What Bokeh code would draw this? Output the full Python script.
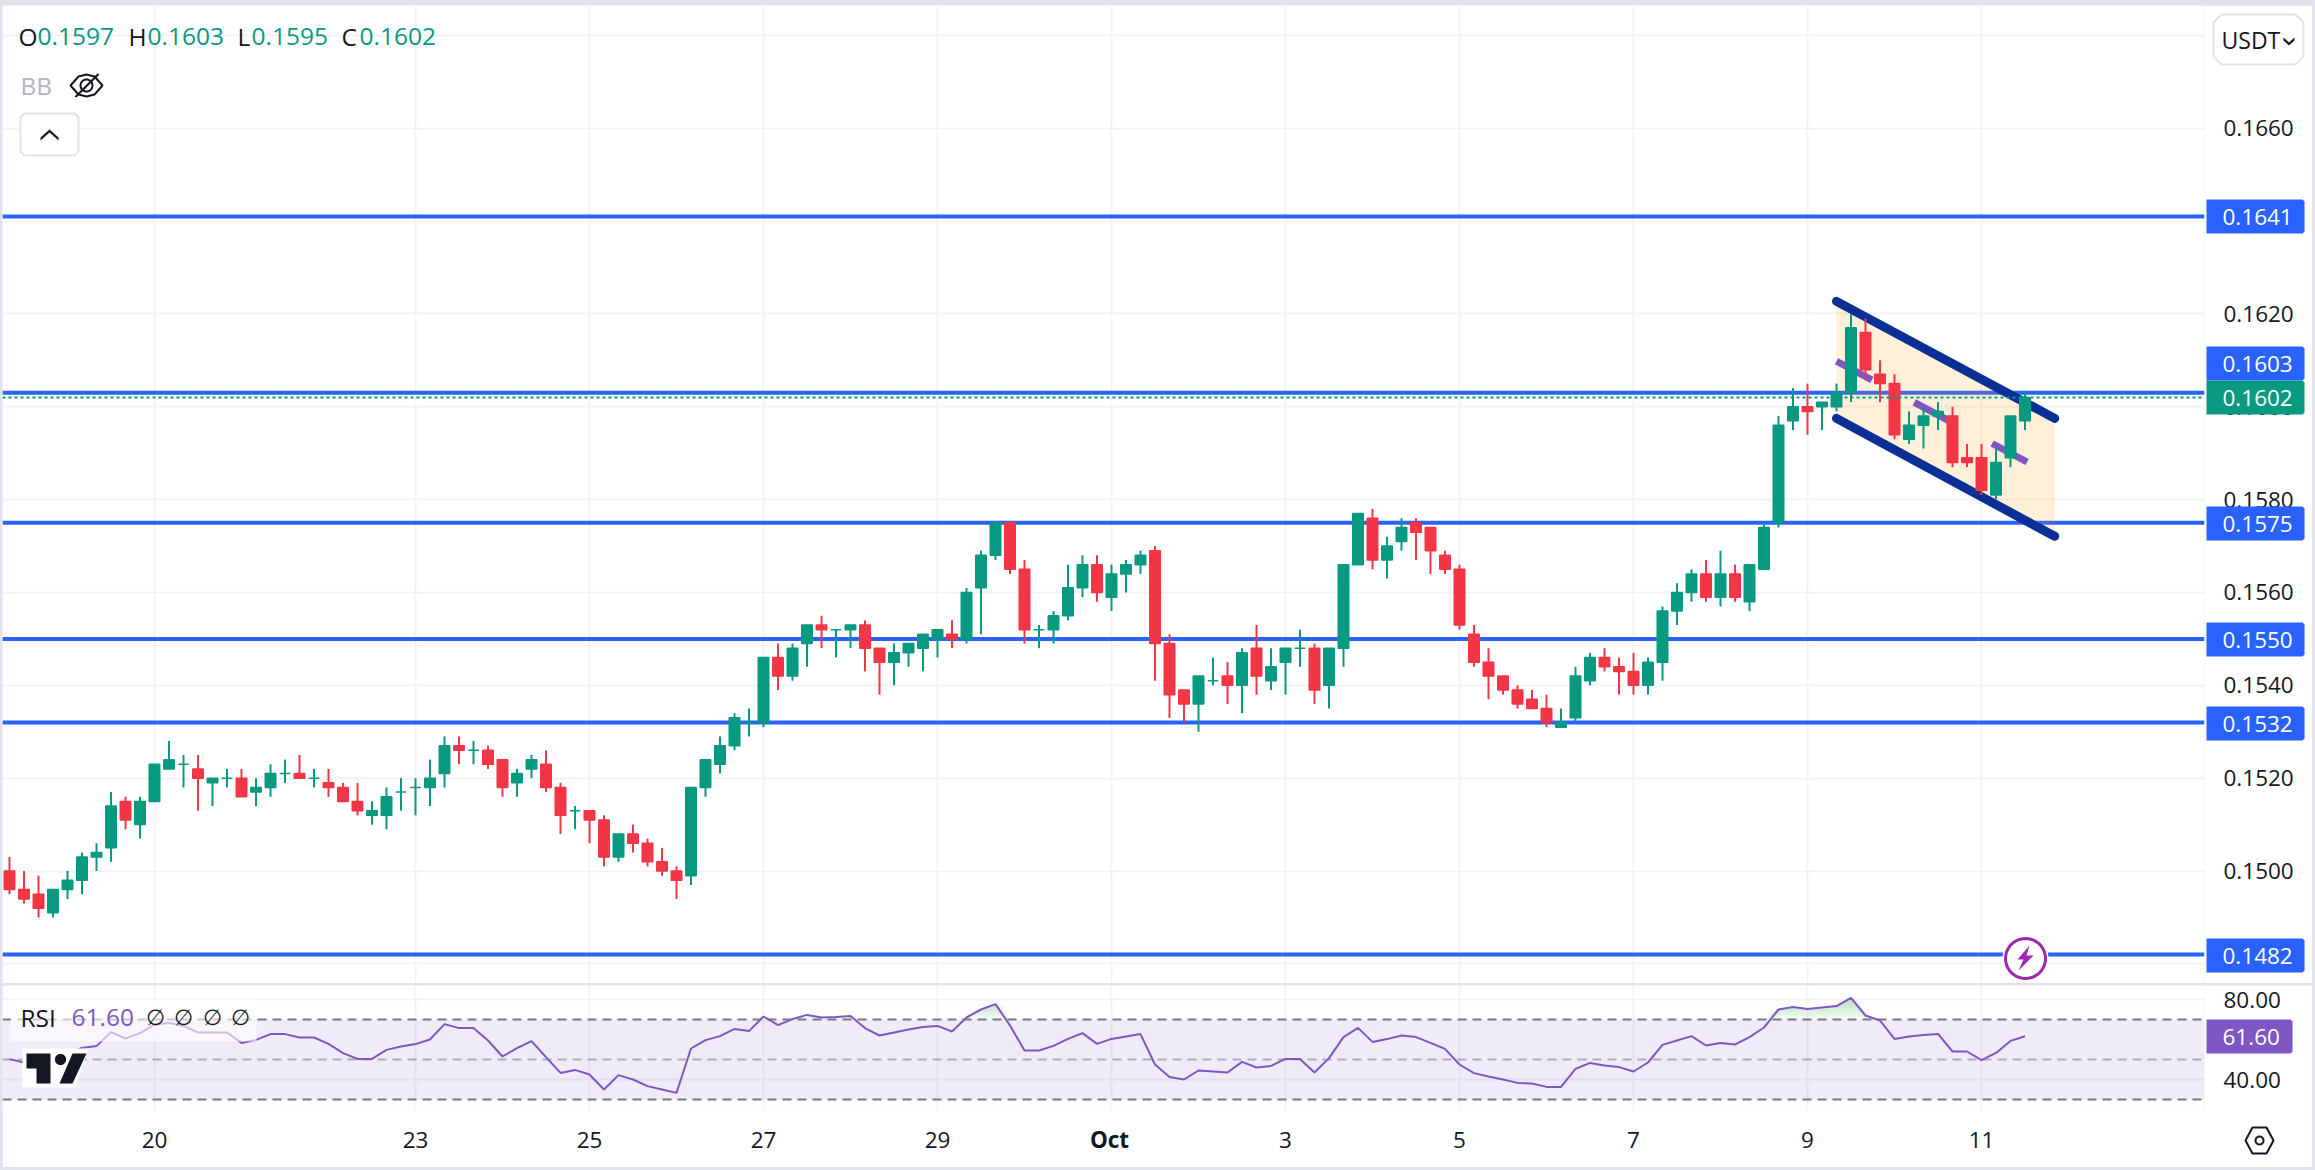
import numpy as np
from bokeh.plotting import figure
from bokeh.layouts import column
from bokeh.models import (FixedTicker, PrintfTickFormatter, Label, PolyAnnotation, BoxAnnotation, Range1d)
from bokeh.embed import file_html
from bokeh.resources import INLINE

opens = [.1500,.1496,.1495,.1491,.1496,.1498,.1503,.1505,.1515,.1510,
 .1515,.1522,.1523,.1522,.1519,.1520,.1520,.1517,.1518,.1521,
 .1521,.1520,.1519,.1518,.1515,.1512,.1512,.1517,.1518,.1518,
 .1521,.1527,.1526,.1526,.1524,.1519,.1522,.1523,.1518,.1513,
 .1513,.1511,.1503,.1508,.1506,.1502,.1500,.1499,.1518,.1523,
 .1527,.1532,.1532,.1546,.1542,.1549,.1553,.1552,.1552,.1553,
 .1548,.1545,.1547,.1548,.1550,.1551,.1550,.1561,.1568,.1575,
 .1565,.1552,.1552,.1555,.1561,.1566,.1559,.1564,.1566,.1569,
 .1549,.1539,.1536,.1541,.1542,.1540,.1548,.1541,.1545,.1548,
 .1548,.1540,.1548,.1566,.1576,.1567,.1571,.1575,.1574,.1568,
 .1565,.1551,.1545,.1542,.1539,.1537,.1535,.1531,.1533,.1541,
 .1546,.1544,.1543,.1540,.1545,.1556,.1560,.1564,.1559,.1564,
 .1558,.1565,.1575,.1597,.1600,.1600,.1600,.1603,.1616,.1607,
 .1605,.1593,.1596,.1598,.1598,.1589,.1589,.1581,.1589,.1597]
highs = [.1503,.1500,.1499,.1496,.1500,.1504,.1506,.1517,.1516,.1516,
 .1523,.1528,.1525,.1525,.1520,.1522,.1522,.1520,.1523,.1524,
 .1525,.1522,.1522,.1519,.1519,.1515,.1518,.1520,.1520,.1524,
 .1529,.1529,.1528,.1527,.1524,.1522,.1525,.1526,.1519,.1514,
 .1513,.1512,.1508,.1510,.1507,.1505,.1501,.1518,.1524,.1529,
 .1534,.1535,.1546,.1549,.1549,.1553,.1555,.1552,.1553,.1554,
 .1548,.1549,.1549,.1551,.1552,.1554,.1561,.1569,.1575,.1575,
 .1567,.1553,.1556,.1566,.1568,.1568,.1566,.1567,.1569,.1570,
 .1551,.1539,.1542,.1546,.1545,.1548,.1553,.1548,.1548,.1552,
 .1549,.1548,.1566,.1577,.1578,.1572,.1576,.1576,.1574,.1569,
 .1566,.1553,.1548,.1542,.1540,.1539,.1538,.1535,.1544,.1547,
 .1548,.1546,.1547,.1546,.1557,.1562,.1565,.1567,.1569,.1566,
 .1566,.1575,.1598,.1604,.1605,.1601,.1605,.1620,.1619,.1610,
 .1607,.1599,.1600,.1601,.1600,.1592,.1592,.1591,.1598,.1603]
lows = [.1495,.1493,.1490,.1490,.1494,.1495,.1500,.1502,.1509,.1507,
 .1515,.1522,.1518,.1513,.1514,.1518,.1516,.1514,.1516,.1519,
 .1520,.1518,.1516,.1515,.1512,.1510,.1509,.1513,.1512,.1514,
 .1518,.1523,.1523,.1522,.1516,.1516,.1520,.1517,.1508,.1509,
 .1506,.1501,.1502,.1504,.1501,.1499,.1494,.1497,.1516,.1521,
 .1526,.1529,.1531,.1539,.1541,.1544,.1548,.1546,.1548,.1543,
 .1538,.1540,.1544,.1543,.1546,.1548,.1549,.1551,.1567,.1564,
 .1549,.1548,.1549,.1554,.1559,.1558,.1556,.1560,.1564,.1541,
 .1533,.1532,.1530,.1540,.1536,.1534,.1538,.1539,.1538,.1544,
 .1536,.1535,.1544,.1566,.1565,.1563,.1569,.1567,.1564,.1564,
 .1552,.1544,.1537,.1538,.1535,.1535,.1531,.1531,.1532,.1540,
 .1543,.1538,.1538,.1538,.1541,.1553,.1558,.1558,.1557,.1558,
 .1556,.1565,.1574,.1595,.1594,.1595,.1599,.1601,.1606,.1601,
 .1593,.1592,.1591,.1595,.1587,.1587,.1581,.1580,.1587,.1595]
closes = [.1496,.1494,.1492,.1496,.1498,.1503,.1504,.1514,.1511,.1515,
 .1523,.1524,.1523,.1520,.1520,.1520,.1516,.1518,.1521,.1521,
 .1520,.1520,.1518,.1515,.1513,.1513,.1516,.1517,.1518,.1520,
 .1527,.1526,.1526,.1523,.1518,.1521,.1524,.1518,.1512,.1513,
 .1511,.1503,.1508,.1506,.1502,.1500,.1498,.1518,.1524,.1527,
 .1533,.1532,.1546,.1542,.1548,.1553,.1552,.1552,.1553,.1548,
 .1545,.1547,.1549,.1551,.1552,.1550,.1560,.1568,.1575,.1565,
 .1552,.1552,.1555,.1561,.1566,.1560,.1564,.1566,.1568,.1549,
 .1538,.1536,.1542,.1541,.1540,.1547,.1542,.1544,.1548,.1548,
 .1539,.1548,.1566,.1577,.1567,.1570,.1574,.1573,.1569,.1565,
 .1553,.1545,.1542,.1539,.1536,.1535,.1532,.1532,.1542,.1546,
 .1544,.1543,.1540,.1545,.1556,.1560,.1564,.1559,.1564,.1559,
 .1566,.1574,.1596,.1600,.1599,.1601,.1603,.1617,.1608,.1605,
 .1594,.1596,.1598,.1599,.1588,.1588,.1582,.1588,.1598,.1602]
rsi = [50.2,48.5,48.0,49.5,53.0,55.8,56.7,63.7,60.5,63.2,
 67.5,68.3,66.8,63.5,63.5,63.5,58.3,59.8,62.7,62.7,
 61,61,57.8,53.2,50.3,50.3,54.8,56.5,57.7,60,
 67.7,65.7,65.7,59.5,51.5,55.7,59.2,51.2,43.3,44.8,
 42.5,35,42.2,40,36.7,35,33.3,55.5,59.7,61.7,
 65.3,64.2,71.5,67.2,70.2,72.3,71,71.2,71.7,65.7,
 62,63.5,65,66.3,66.8,64,71,75,77.7,67,
 54.5,54.5,56.8,60.3,63.2,57.8,60.3,61.5,62.7,47.5,
 41.2,40,44.5,44,43.5,48.8,46,46.8,50.3,50.3,
 43.5,50.7,61.2,65.8,58.8,60.2,62,61.2,58.3,55.3,
 47.5,43.2,41.5,40,38.3,38,36.3,36.3,45.3,48.3,
 47,46.2,44,48.5,57.3,59.5,61.7,57,58.3,57.5,
 61.2,66,75,76.3,75.3,76,76.7,80.8,72,69.5,
 60.3,61.5,62.3,62.8,54,54,49.7,53.3,59.3,61.6]

levels = [0.1641, 0.1603, 0.1575, 0.1550, 0.1532, 0.1482]
last_close = 0.1602
channel_top_x, channel_top_y = [126.0, 141.05], [0.16227, 0.15975]
channel_bot_x, channel_bot_y = [126.0, 141.05], [0.15975, 0.15721]
mid_x, mid_y = [126.0, 139.15], [0.16098, 0.15881]
day_ticks = [10, 28, 40, 52, 64, 76, 88, 100, 112, 124, 136]
day_labels = ["20", "23", "25", "27", "29", " ", "3", "5", "7", "9", "11"]
price_ticks = [round(0.148 + 0.002*k, 3) for k in range(11)]

GREEN, RED, BLUE, PURPLE = "#089981", "#f23645", "#2962ff", "#7e57c2"
INK, GRID, EDGE = "#131722", "#f2f3f6", "#e0e3eb"
FONT = "Open Sans"

idx = np.arange(len(opens))
colors = [GREEN if c >= o else RED for o, c in zip(opens, closes)]
xr = Range1d(-0.4828, 151.38)

p1 = figure(width=2310, height=978, output_backend="svg", toolbar_location=None,
            x_range=xr, y_range=Range1d(0.147578, 0.168643), y_axis_location="right",
            min_border_left=0, min_border_right=108, min_border_top=0, min_border_bottom=0,
            outline_line_color=None, margin=(5, 3, 0, 2))
p2 = figure(width=2310, height=182, output_backend="svg", toolbar_location=None,
            x_range=xr, y_range=Range1d(24.5, 87), y_axis_location="right",
            min_border_left=0, min_border_right=108, min_border_top=0, min_border_bottom=57,
            outline_line_color=None, margin=(2, 3, 3, 2))
# transparent sheet over the page for price tags and icons, drawn last
p3 = figure(width=2315, height=1170, output_backend="svg", toolbar_location=None,
            x_range=Range1d(0, 2315), y_range=Range1d(1170, 0),
            x_axis_location=None, y_axis_location=None,
            min_border_left=0, min_border_right=0, min_border_top=0, min_border_bottom=0,
            outline_line_color=None, background_fill_color=None, border_fill_color=None,
            frame_align=False, margin=(-1170, 0, 0, 0))
p3.grid.visible = False

for f in (p1, p2):
    f.xgrid.ticker = FixedTicker(ticks=day_ticks)
    f.xgrid.grid_line_color = GRID
    f.xgrid.grid_line_width = 2
    f.ygrid.grid_line_color = GRID
    f.ygrid.grid_line_width = 2
    ax = f.yaxis[0]
    ax.axis_line_color = None
    ax.major_tick_line_color = None
    ax.minor_tick_line_color = None
    ax.major_label_text_font = FONT
    ax.major_label_text_font_size = "22.5px"
    ax.major_label_text_color = INK
    ax.major_label_standoff = 13

p1.xaxis.visible = False
p1.yaxis[0].ticker = FixedTicker(ticks=price_ticks)
p1.yaxis[0].formatter = PrintfTickFormatter(format="%.4f")
p1.ygrid.ticker = FixedTicker(ticks=price_ticks)

p2.yaxis[0].ticker = FixedTicker(ticks=[40, 80])
p2.yaxis[0].formatter = PrintfTickFormatter(format="%.2f")
p2.ygrid.ticker = FixedTicker(ticks=[40, 80])
xa = p2.xaxis[0]
xa.ticker = FixedTicker(ticks=day_ticks)
xa.major_label_overrides = {t: s for t, s in zip(day_ticks, day_labels)}
xa.axis_line_color = None
xa.major_tick_line_color = None
xa.minor_tick_line_color = None
xa.major_label_text_font = FONT
xa.major_label_text_font_size = "22.5px"
xa.major_label_text_color = INK
xa.major_label_standoff = 7

# main pane marks
x_left, x_right = [xr.start] * len(levels), [xr.end] * len(levels)
p1.segment(x_left, levels, x_right, levels, line_color=BLUE, line_width=4)
p1.patch(channel_top_x + channel_bot_x[::-1], channel_top_y + channel_bot_y[::-1],
         fill_color="#ff9800", fill_alpha=0.15, line_color=None)
p1.line(mid_x, mid_y, line_color=PURPLE, line_width=7, line_dash="40 48")
p1.line(channel_top_x, channel_top_y, line_color="#0c2f96", line_width=9, line_cap="round")
p1.line(channel_bot_x, channel_bot_y, line_color="#0c2f96", line_width=9, line_cap="round")
p1.segment(idx, highs, idx, lows, line_color=colors, line_width=2)
p1.vbar(idx, width=0.724, top=opens, bottom=closes, fill_color=colors, line_color=colors, line_width=1.5)
p1.segment([xr.start], [last_close], [xr.end], [last_close], line_color=GREEN, line_width=2, line_dash="3 3")

# RSI pane marks
p2.add_layout(BoxAnnotation(bottom=30, top=70, fill_color=PURPLE, fill_alpha=0.12, line_color=None, level="underlay"))
rsi_arr = np.array(rsi)
for t in (70, 72, 74, 76, 78):
    p2.varea(idx, y1=[t]*len(idx), y2=np.maximum(rsi_arr, t), fill_color="#4caf50", fill_alpha=0.07)
for lv, col, a in ((70, "#787b86", 1), (50, "#787b86", 0.55), (30, "#787b86", 1)):
    p2.segment([xr.start], [lv], [xr.end], [lv], line_color=col, line_alpha=a, line_width=2, line_dash="9 6")
p2.line(idx, rsi, line_color=PURPLE, line_width=2)


def poly(X, Y, fill=None, alpha=1.0, line=None, lw=0):
    p3.add_layout(PolyAnnotation(xs=list(X), ys=list(Y), xs_units="canvas", ys_units="canvas",
                                 fill_color=fill if fill else "#ffffff", fill_alpha=alpha if fill else 0,
                                 line_color=line, line_alpha=1.0, line_width=lw, level="annotation"))


def circ(cx, cy, r, n=48):
    t = np.linspace(0, 2*np.pi, n, endpoint=False)
    return list(cx + r*np.cos(t)), list(cy + r*np.sin(t))


def label(X, Y, txt, color=INK, size="22.5px", align="left", font=FONT, style="normal"):
    p3.add_layout(Label(x=X, y=Y, x_units="canvas", y_units="canvas", text=txt,
                        text_color=color, text_font=font, text_font_size=size, text_align=align,
                        text_baseline="middle", text_font_style=style, level="annotation"))


# header
for X, t, c in ((18, "O", INK), (37, "0.1597", GREEN), (128, "H", INK), (147, "0.1603", GREEN),
                (237, "L", INK), (251, "0.1595", GREEN), (341, "C", INK), (359, "0.1602", GREEN)):
    label(X, 36, t, color=c, size="24.5px")
label(20, 85, "BB", color="#b2b5be", size="24.5px")

# eye icon
poly([70, 78, 86, 94, 102, 94, 86, 78], [85, 76, 74, 76, 85, 94, 96, 94], line=INK, lw=2)
poly(*circ(86, 85, 6), line=INK, lw=2)
poly([97, 99, 76, 74], [73, 74, 97, 96], fill=INK)

# collapse button
poly([24, 74, 78, 78, 74, 24, 20, 20], [113, 113, 117, 151, 155, 155, 151, 117], fill="#ffffff", line=EDGE, lw=2)
poly([40, 49, 58, 58, 49, 40], [137, 129, 137, 140, 132, 140], fill=INK)

# bolt badge
poly(*circ(2025, 958, 23), fill="#ffffff")
poly(*circ(2025, 958, 20), fill="#ffffff", line="#9c27b0", lw=3)
poly([2029, 2017, 2023, 2018, 2033, 2026], [945, 959, 959, 970, 955, 955], fill="#9c27b0")

# price tags
for yc, t, bg in ((216, "0.1641", BLUE), (363, "0.1603", BLUE), (523, "0.1575", BLUE), (639, "0.1550", BLUE),
                  (723, "0.1532", BLUE), (955, "0.1482", BLUE), (397, "0.1602", GREEN)):
    poly([2206, 2302, 2304, 2304, 2302, 2206], [yc-17, yc-17, yc-15, yc+15, yc+17, yc+17], fill=bg)
    label(2222, yc, t, color="#ffffff")

# USDT button
poly([2221, 2295, 2303, 2303, 2295, 2221, 2213, 2213], [14, 14, 22, 56, 64, 64, 56, 22], fill="#ffffff", line=EDGE, lw=2)
label(2221, 39, "USDT", size="23px")
poly([2283, 2288.5, 2294, 2294, 2288.5, 2283], [37, 42, 37, 40, 45, 40], fill=INK)

# RSI legend
poly([10, 256, 256, 10], [999, 999, 1041, 1041], fill="#ffffff", alpha=0.6)
label(20, 1017, "RSI", size="24.5px")
label(71, 1017, "61.60", color=PURPLE, size="24.5px")
for X in (155, 183, 212, 240):
    label(X, 1017, "\u2205", size="22px", align="center", font="DejaVu Sans")

# logo
poly([22, 88, 75, 22], [1048, 1048, 1087, 1087], fill="#ffffff")
poly([26, 50, 50, 36, 36, 26], [1053, 1053, 1083, 1083, 1068, 1068], fill=INK)
poly(*circ(60, 1059, 5.6), fill=INK)
poly([72, 86, 72, 59], [1053, 1053, 1083, 1083], fill=INK)

# RSI tag
poly([2206, 2290, 2292, 2292, 2290, 2206], [1019, 1019, 1021, 1051, 1053, 1053], fill=PURPLE)
label(2222, 1036, "61.60", color="#ffffff")

# Oct and settings icon
label(1109, 1139, "Oct", align="center", style="bold")
poly([2245, 2252, 2266, 2273, 2266, 2252], [1140, 1127, 1127, 1140, 1153, 1153], line=INK, lw=2)
poly(*circ(2259, 1140, 4), line=INK, lw=2)

page = column(p1, p2, p3, styles={"background-color": EDGE}, spacing=0)
open("out.html", "w").write(file_html(page, INLINE))
